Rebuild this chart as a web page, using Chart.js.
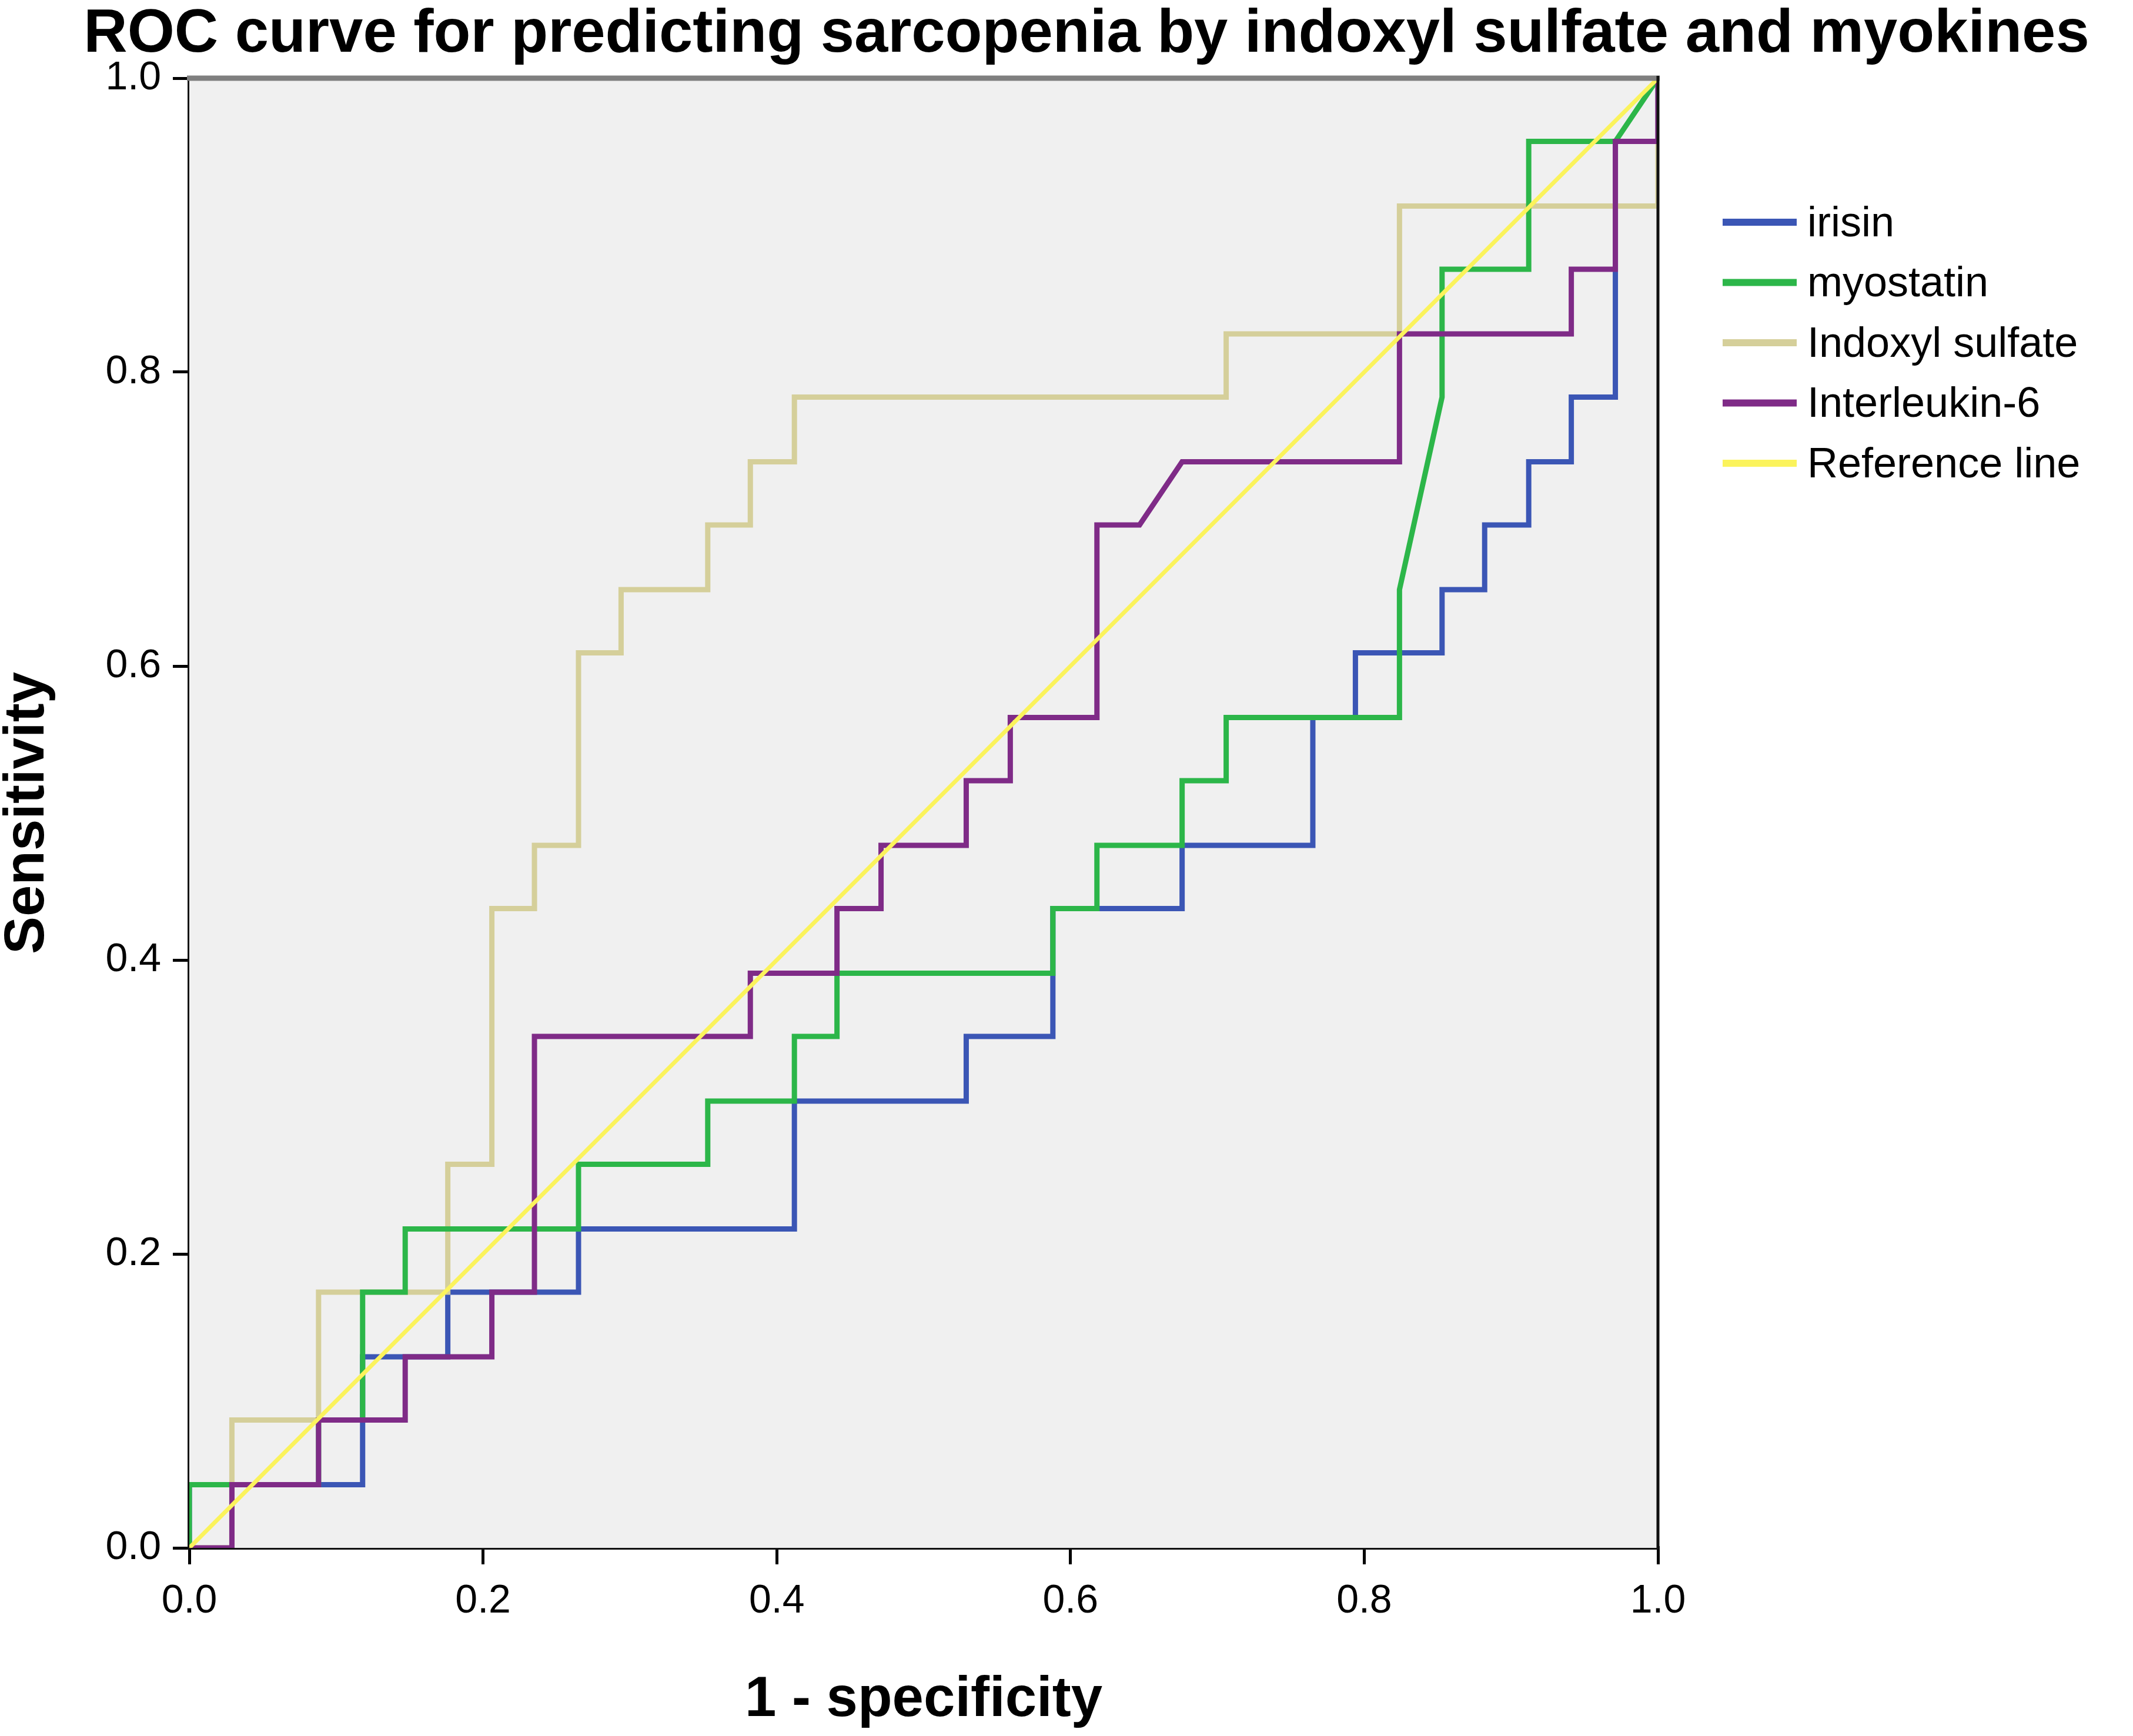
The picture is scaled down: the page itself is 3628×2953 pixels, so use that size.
<!DOCTYPE html>
<html>
<head>
<meta charset="utf-8">
<title>ROC curve</title>
<script src="https://cdn.jsdelivr.net/npm/chart.js@4.4.1/dist/chart.umd.min.js"></script>
<style>
    html, body { margin: 0; padding: 0; background: #ffffff; }
    #wrap { width: 3628px; height: 2953px; }
</style>
</head>
<body>
<div id="wrap"><canvas id="rocChart" width="3628" height="2953"></canvas></div>
<script>
// 1 - specificity (x) and sensitivity (y) at each corner of the curves
const irisinX = [0, 0, 0.118, 0.118, 0.176, 0.176, 0.265, 0.265, 0.412, 0.412, 0.529, 0.529, 0.588, 0.588, 0.676, 0.676, 0.765, 0.765, 0.794, 0.794, 0.853, 0.853, 0.882, 0.882, 0.912, 0.912, 0.941, 0.941, 0.971, 0.971, 1, 1];
const irisinY = [0, 0.043, 0.043, 0.13, 0.13, 0.174, 0.174, 0.217, 0.217, 0.304, 0.304, 0.348, 0.348, 0.435, 0.435, 0.478, 0.478, 0.565, 0.565, 0.609, 0.609, 0.652, 0.652, 0.696, 0.696, 0.739, 0.739, 0.783, 0.783, 0.957, 0.957, 1];

const myostatinX = [0, 0, 0.088, 0.088, 0.118, 0.118, 0.147, 0.147, 0.265, 0.265, 0.353, 0.353, 0.412, 0.412, 0.441, 0.441, 0.588, 0.588, 0.618, 0.618, 0.676, 0.676, 0.706, 0.706, 0.824, 0.824, 0.853, 0.853, 0.912, 0.912, 0.971, 1];
const myostatinY = [0, 0.043, 0.043, 0.087, 0.087, 0.174, 0.174, 0.217, 0.217, 0.261, 0.261, 0.304, 0.304, 0.348, 0.348, 0.391, 0.391, 0.435, 0.435, 0.478, 0.478, 0.522, 0.522, 0.565, 0.565, 0.652, 0.783, 0.87, 0.87, 0.957, 0.957, 1];

const indoxylX = [0, 0.029, 0.029, 0.088, 0.088, 0.176, 0.176, 0.206, 0.206, 0.235, 0.235, 0.265, 0.265, 0.294, 0.294, 0.353, 0.353, 0.382, 0.382, 0.412, 0.412, 0.706, 0.706, 0.824, 0.824, 1, 1];
const indoxylY = [0, 0, 0.087, 0.087, 0.174, 0.174, 0.261, 0.261, 0.435, 0.435, 0.478, 0.478, 0.609, 0.609, 0.652, 0.652, 0.696, 0.696, 0.739, 0.739, 0.783, 0.783, 0.826, 0.826, 0.913, 0.913, 1];

const il6X = [0, 0.029, 0.029, 0.088, 0.088, 0.147, 0.147, 0.206, 0.206, 0.235, 0.235, 0.382, 0.382, 0.441, 0.441, 0.471, 0.471, 0.529, 0.529, 0.559, 0.559, 0.618, 0.618, 0.647, 0.676, 0.824, 0.824, 0.941, 0.941, 0.971, 0.971, 1, 1];
const il6Y = [0, 0, 0.043, 0.043, 0.087, 0.087, 0.13, 0.13, 0.174, 0.174, 0.348, 0.348, 0.391, 0.391, 0.435, 0.435, 0.478, 0.478, 0.522, 0.522, 0.565, 0.565, 0.696, 0.696, 0.739, 0.739, 0.826, 0.826, 0.87, 0.87, 0.957, 0.957, 1];

const refX = [0, 1];
const refY = [0, 1];

const seriesNames = ["irisin", "myostatin", "Indoxyl sulfate", "Interleukin-6", "Reference line"];
const axisTicks = [0, 0.2, 0.4, 0.6, 0.8, 1.0];
const chartTitle = "ROC curve for predicting sarcopenia by indoxyl sulfate and myokines";

const colores = ["#3b56b5", "#2cb649", "#d5cf9a", "#7f2b87", "#fbf35c"];

function puntos(xs, ys) {
    return xs.map((x, i) => ({ x: x, y: ys[i] }));
}

// fondo gris del area, marco superior/derecho y titulo
const marcoPlugin = {
    id: "marco",
    beforeDatasetsDraw(chart) {
        const a = chart.chartArea;
        const ctx = chart.ctx;
        ctx.save();
        ctx.fillStyle = "#f0f0f0";
        ctx.fillRect(a.left, a.top, a.right - a.left, a.bottom - a.top);
        ctx.restore();
    },
    afterDatasetsDraw(chart) {
        const a = chart.chartArea;
        const ctx = chart.ctx;
        ctx.save();
        ctx.strokeStyle = "#7f7f7f";
        ctx.lineWidth = 9;
        ctx.beginPath();
        ctx.moveTo(a.left - 4, a.top);
        ctx.lineTo(a.right + 3, a.top);
        ctx.stroke();
        ctx.strokeStyle = "#111111";
        ctx.lineWidth = 5;
        ctx.beginPath();
        ctx.moveTo(a.right, a.top - 4);
        ctx.lineTo(a.right, a.bottom);
        ctx.stroke();

        ctx.fillStyle = "#000000";
        ctx.font = "bold 103px 'Liberation Sans', Arial, sans-serif";
        ctx.textAlign = "center";
        ctx.textBaseline = "alphabetic";
        ctx.fillText(chartTitle, 1848, 88);
        ctx.restore();
    }
};

// leyenda a la derecha del grafico
const leyendaPlugin = {
    id: "leyenda",
    afterDraw(chart) {
        const ctx = chart.ctx;
        const x0 = 2930, x1 = 3056, xt = 3074;
        let y = 378;
        ctx.save();
        ctx.font = "72px 'Liberation Sans', Arial, sans-serif";
        ctx.textBaseline = "middle";
        ctx.textAlign = "left";
        chart.data.datasets.forEach(ds => {
            ctx.strokeStyle = ds.borderColor;
            ctx.lineWidth = 12;
            ctx.beginPath();
            ctx.moveTo(x0, y);
            ctx.lineTo(x1, y);
            ctx.stroke();
            ctx.fillStyle = "#000000";
            ctx.fillText(ds.label, xt, y + 4);
            y += 102.5;
        });
        ctx.restore();
    }
};

const ctx = document.getElementById("rocChart").getContext("2d");
new Chart(ctx, {
    type: "scatter",
    data: {
        datasets: [
            { label: seriesNames[0], data: puntos(irisinX, irisinY), borderColor: colores[0], order: 4 },
            { label: seriesNames[1], data: puntos(myostatinX, myostatinY), borderColor: colores[1], order: 2 },
            { label: seriesNames[2], data: puntos(indoxylX, indoxylY), borderColor: colores[2], order: 3 },
            { label: seriesNames[3], data: puntos(il6X, il6Y), borderColor: colores[3], order: 1 },
            { label: seriesNames[4], data: puntos(refX, refY), borderColor: colores[4], order: 0, borderWidth: 7 }
        ].map(ds => Object.assign({
            showLine: true,
            tension: 0,
            borderWidth: 9,
            pointRadius: 0,
            pointHoverRadius: 0,
            fill: false,
            borderJoinStyle: "miter",
            borderCapStyle: "butt"
        }, ds))
    },
    options: {
        responsive: false,
        devicePixelRatio: 1,
        animation: false,
        layout: { padding: { left: 0, right: 808, top: 133, bottom: 12 } },
        plugins: {
            legend: { display: false },
            tooltip: { enabled: false },
            title: { display: false }
        },
        scales: {
            x: {
                type: "linear",
                min: 0,
                max: 1,
                afterBuildTicks: scale => { scale.ticks = axisTicks.map(v => ({ value: v })); },
                afterFit: scale => { scale.height = 308; },
                ticks: {
                    color: "#000000",
                    padding: 22,
                    maxRotation: 0,
                    font: { family: "'Liberation Sans', Arial, sans-serif", size: 68 },
                    callback: v => Number(v).toFixed(1)
                },
                grid: { drawOnChartArea: false, drawTicks: true, tickLength: 28, color: "#000000", lineWidth: 5 },
                border: { display: true, color: "#111111", width: 6 },
                title: {
                    display: true,
                    text: "1 - specificity",
                    color: "#000000",
                    font: { family: "'Liberation Sans', Arial, sans-serif", size: 96, weight: "bold", lineHeight: 1 },
                    padding: { top: 0, bottom: 0 }
                }
            },
            y: {
                type: "linear",
                min: 0,
                max: 1,
                afterBuildTicks: scale => { scale.ticks = axisTicks.map(v => ({ value: v })); },
                afterFit: scale => { scale.width = 322; },
                ticks: {
                    color: "#000000",
                    padding: 20,
                    font: { family: "'Liberation Sans', Arial, sans-serif", size: 68 },
                    callback: v => Number(v).toFixed(1)
                },
                grid: { drawOnChartArea: false, drawTicks: true, tickLength: 28, color: "#000000", lineWidth: 5 },
                border: { display: true, color: "#111111", width: 6 },
                title: {
                    display: true,
                    text: "Sensitivity",
                    color: "#000000",
                    font: { family: "'Liberation Sans', Arial, sans-serif", size: 96, weight: "bold", lineHeight: 1 },
                    padding: { top: 0, bottom: 0 }
                }
            }
        }
    },
    plugins: [marcoPlugin, leyendaPlugin]
});
</script>
</body>
</html>
